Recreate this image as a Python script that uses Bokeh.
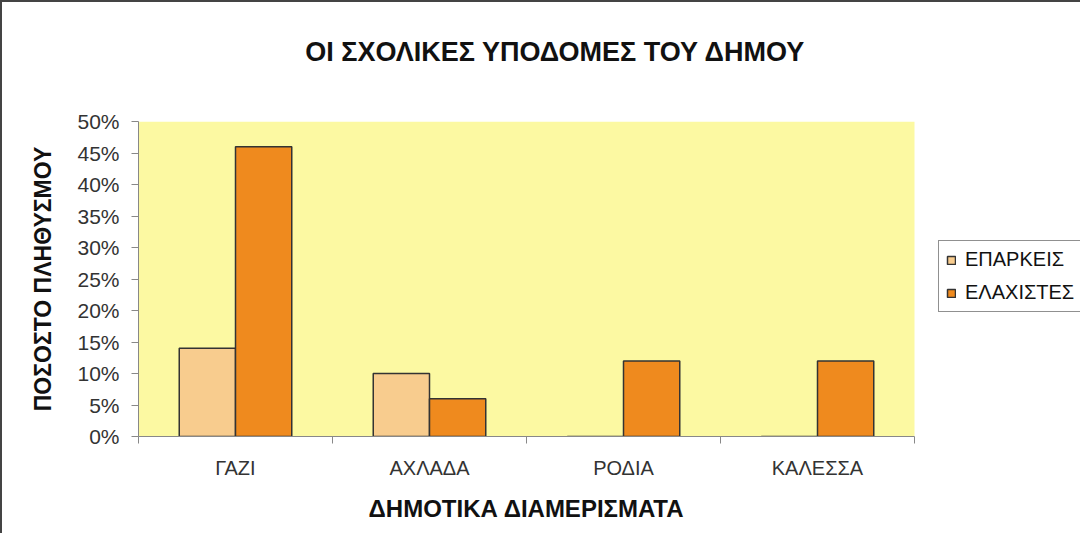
from bokeh.plotting import figure
from bokeh.layouts import column
from bokeh.models import (Range1d, FixedTicker, PrintfTickFormatter, Legend, LegendItem,
                          ColumnDataSource, Label, BoxAnnotation)
from bokeh.embed import file_html
from bokeh.resources import INLINE

categories = ["ΓΑΖΙ", "ΑΧΛΑΔΑ", "ΡΟΔΙΑ", "ΚΑΛΕΣΣΑ"]
eparkeis = [14, 10, 0, 0]
elaxistes = [46, 6, 12, 12]
series_names = ["ΕΠΑΡΚΕΙΣ", "ΕΛΑΧΙΣΤΕΣ"]
y_ticks = [0, 5, 10, 15, 20, 25, 30, 35, 40, 45, 50]
y_max = 50

title_text = "ΟΙ ΣΧΟΛΙΚΕΣ ΥΠΟΔΟΜΕΣ ΤΟΥ ΔΗΜΟΥ"
x_label_text = "ΔΗΜΟΤΙΚΑ ΔΙΑΜΕΡΙΣΜΑΤΑ"
y_label_text = "ΠΟΣΟΣΤΟ ΠΛΗΘΥΣΜΟΥ"

FONT = "Liberation Sans"
W = 1078
LEFT, TOP, BOTTOM = 136, 19, 53
PLOT_W, PLOT_H = 776, 315          # pixel size of the yellow plot area
n = len(categories)
frame_w = W - LEFT


def blank(height):
    f = figure(width=W, height=height, output_backend="svg", toolbar_location=None,
               x_range=Range1d(0, 1), y_range=Range1d(0, 1),
               x_axis_location=None, y_axis_location=None, min_border=0)
    f.grid.visible = False
    f.outline_line_color = None
    f.background_fill_color = "white"
    f.border_fill_color = "white"
    return f


# ---- title strip (its frame is aligned with the chart's frame by the column)
tfig = blank(100)
tfig.add_layout(Label(x=417, y=51, x_units="screen", y_units="screen",
                      text=title_text, text_font=FONT, text_font_style="bold",
                      text_font_size="27px", text_align="center",
                      text_baseline="middle", text_color="#111111"))

# ---- main chart
p = figure(width=W, height=TOP + PLOT_H + BOTTOM, output_backend="svg",
           toolbar_location=None,
           x_range=Range1d(0, n * frame_w / PLOT_W), y_range=Range1d(0, y_max),
           min_border_left=LEFT, min_border_right=0, min_border_top=TOP,
           min_border_bottom=BOTTOM)
p.background_fill_color = "white"
p.border_fill_color = "white"
p.outline_line_color = None
p.grid.visible = False

p.add_layout(BoxAnnotation(left=0, right=n, bottom=0, top=y_max,
                           fill_color="#FCF9A2", fill_alpha=1, line_color=None,
                           level="underlay"))

centers = [i + 0.5 for i in range(n)]
bw = 0.29
src = ColumnDataSource(dict(
    x1=[c - bw / 2 for c in centers], x2=[c + bw / 2 for c in centers],
    a=eparkeis, b=elaxistes))
r1 = p.vbar(x="x1", top="a", width=bw, source=src, fill_color="#F8CC8E",
            line_color="#333333", line_width=1.5)
r2 = p.vbar(x="x2", top="b", width=bw, source=src, fill_color="#EF8A1E",
            line_color="#333333", line_width=1.5)

xa = p.xaxis[0]
xa.bounds = (0, n)
xa.ticker = FixedTicker(ticks=centers, minor_ticks=list(range(n + 1)))
xa.major_label_overrides = {c: nm for c, nm in zip(centers, categories)}
xa.major_tick_line_color = None
xa.major_tick_out = 0
xa.minor_tick_out = 7
xa.minor_tick_in = 0
xa.minor_tick_line_color = "#888888"
xa.axis_line_color = "#888888"
xa.major_label_text_font = FONT
xa.major_label_text_font_size = "20px"
xa.major_label_text_color = "#333333"
xa.major_label_standoff = 13

ya = p.yaxis[0]
ya.bounds = (0, y_max)
ya.ticker = FixedTicker(ticks=y_ticks)
ya.formatter = PrintfTickFormatter(format="%d%%")
ya.major_tick_out = 7
ya.major_tick_in = 0
ya.minor_tick_line_color = None
ya.major_tick_line_color = "#888888"
ya.axis_line_color = "#888888"
ya.major_label_text_font = FONT
ya.major_label_text_font_size = "21px"
ya.major_label_text_color = "#333333"
ya.major_label_standoff = 12
ya.axis_label = y_label_text
ya.axis_label_text_font = FONT
ya.axis_label_text_font_style = "bold"
ya.axis_label_text_font_size = "23px"
ya.axis_label_standoff = 18
ya.axis_label_text_color = "#111111"

legend = Legend(items=[LegendItem(label=series_names[0], renderers=[r1]),
                       LegendItem(label=series_names[1], renderers=[r2])],
                location=(800, 124), orientation="vertical",
                glyph_width=10, glyph_height=10, label_text_font=FONT,
                label_text_font_size="20px", label_text_color="#111111",
                border_line_color="#222222", border_line_width=1,
                background_fill_color="white", padding=7, spacing=10,
                margin=0, label_standoff=9)
p.add_layout(legend, "center")

# ---- x-axis title strip
xfig = blank(44)
xfig.add_layout(Label(x=PLOT_W / 2, y=25, x_units="screen", y_units="screen",
                      text=x_label_text, text_font=FONT, text_font_style="bold",
                      text_font_size="24px", text_align="center",
                      text_baseline="middle", text_color="#111111"))

layout = column(tfig, p, xfig, spacing=0)
layout.styles = {"border-top": "2px solid #444", "border-left": "2px solid #444"}

open("out.html", "w").write(file_html(layout, INLINE))
